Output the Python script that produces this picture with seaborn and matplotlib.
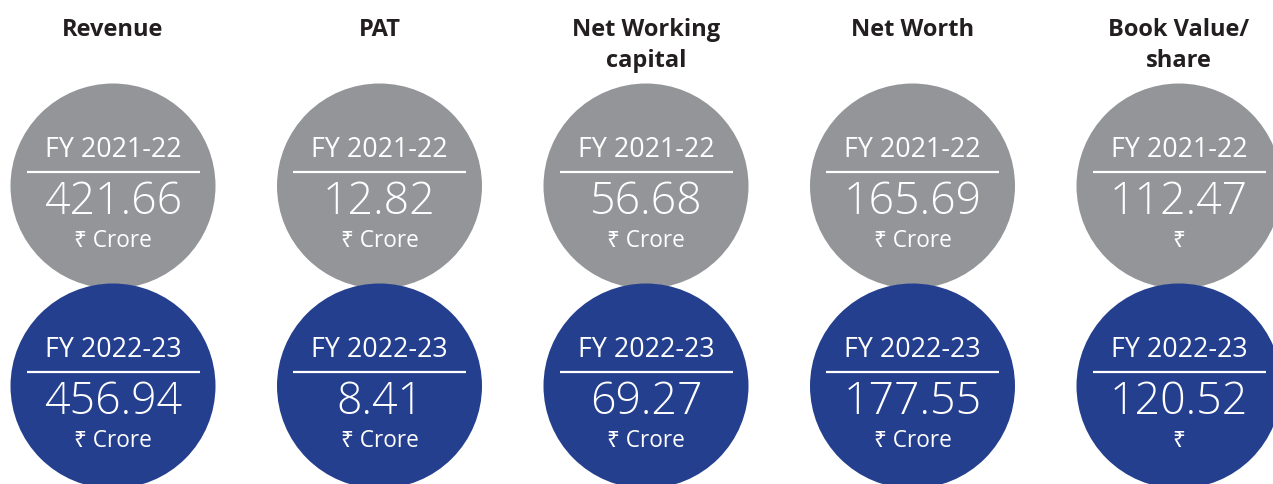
import matplotlib
matplotlib.use("Agg")
import matplotlib.pyplot as plt
import seaborn as sns
import pandas as pd

# data
metrics = ["Revenue", "PAT", "Net Working\ncapital", "Net Worth", "Book Value/\nshare"]
years = ["FY 2021-22", "FY 2022-23"]
fy_2122 = [421.66, 12.82, 56.68, 165.69, 112.47]
fy_2223 = [456.94, 8.41, 69.27, 177.55, 120.52]
units = ["₹ Crore", "₹ Crore", "₹ Crore", "₹ Crore", "₹"]

colors = {"FY 2021-22": "#939598", "FY 2022-23": "#253f8f"}

rows = []
for i, m in enumerate(metrics):
    rows.append({"col": i, "row": 0, "year": years[0], "value": fy_2122[i], "unit": units[i]})
    rows.append({"col": i, "row": 1, "year": years[1], "value": fy_2223[i], "unit": units[i]})
df = pd.DataFrame(rows)

sns.set_theme(style="white")
plt.rcParams['font.family'] = ['Open Sans', 'Noto Sans', 'DejaVu Sans']

W, H, DPI = 1273, 484, 100
fig = plt.figure(figsize=(W / DPI, H / DPI), dpi=DPI)
ax = fig.add_axes([0, 0, 1, 1])

# pixel layout: column spacing 266.5px, first centre at x=113; rows 200px apart, first at y=186
colw, rowh = 266.5, 200.0
x0, y0 = 113.0, 186.0
radius = 102.5

diam_pt = 2 * radius * 72 / DPI
sns.scatterplot(data=df, x="col", y="row", hue="year", palette=colors,
                s=diam_pt ** 2, linewidth=0, legend=False, ax=ax, zorder=2)

ax.set_xlim(-x0 / colw, (W - x0) / colw)
ax.set_ylim((H - y0) / rowh, -y0 / rowh)
ax.axis("off")

title_col = "#231f20"
for i, m in enumerate(metrics):
    for k, line in enumerate(m.split("\n")):
        ax.annotate(line, (i, 0), xytext=(0, 186 - 36 - 30.7 * k), textcoords="offset pixels",
                    ha="center", va="baseline", fontsize=17, fontweight="bold", color=title_col)

for _, r in df.iterrows():
    c, rw = r["col"], r["row"]
    ax.annotate(r["year"], (c, rw), xytext=(0, 28.7), textcoords="offset pixels",
                ha="center", va="baseline", fontsize=19.3, fontweight="normal", color="white", zorder=3)
    ax.hlines(rw - 13.7 / rowh, c - 86.5 / colw, c + 86.5 / colw, color="white", lw=1.6, zorder=3)
    ax.annotate(f"{r['value']:.2f}", (c, rw), xytext=(0, -28.5), textcoords="offset pixels",
                ha="center", va="baseline", fontsize=32.2, fontweight="light", color="white", zorder=3)
    ax.annotate(r["unit"], (c, rw), xytext=(0, -61), textcoords="offset pixels",
                ha="center", va="baseline", fontsize=16.3, fontweight="normal", color="white", zorder=3)

fig.savefig("out.png", dpi=DPI, facecolor="white")
